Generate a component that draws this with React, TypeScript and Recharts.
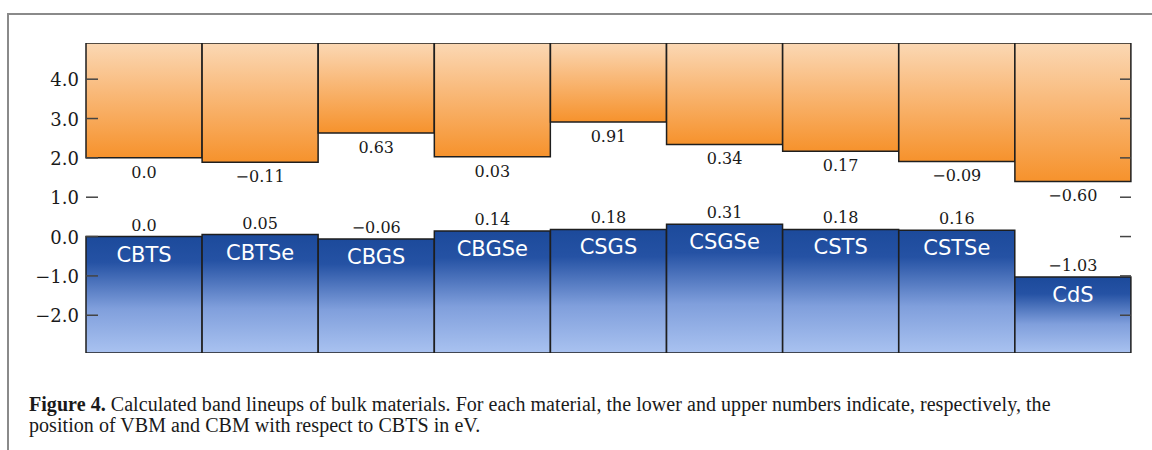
import React from "react";
import { BarChart, Bar, XAxis, YAxis, LabelList } from "recharts";

// Band lineup data (eV, relative to CBTS)
const materials = ["CBTS", "CBTSe", "CBGS", "CBGSe", "CSGS", "CSGSe", "CSTS", "CSTSe", "CdS"];
const vbmValues = [0.0, 0.05, -0.06, 0.14, 0.18, 0.31, 0.18, 0.16, -1.03];
const cbmValues = [0.0, -0.11, 0.63, 0.03, 0.91, 0.34, 0.17, -0.09, -0.6];
const cbtsGap = 2.0;
const yTicks = [-2, -1, 0, 1, 2, 3, 4];
const yDomain: [number, number] = [-2.96, 4.92];

const fmt = (v: number) => (v === 0 ? "0.0" : v.toFixed(2)).replace("-", "\u2212");

const data = materials.map((name, i) => ({
  name,
  valence: [yDomain[0], vbmValues[i]],
  conduction: [cbtsGap + cbmValues[i], yDomain[1]],
  vbmText: fmt(vbmValues[i]),
  cbmText: fmt(cbmValues[i]),
}));

const SERIF = "'DejaVu Serif', serif";
const SANS = "'DejaVu Sans', sans-serif";

const CHART_W = 1152;
const MARGIN = { top: 43, right: 21, left: 26, bottom: 19 };
const Y_AXIS_W = 60;
const PLOT_RIGHT = CHART_W - MARGIN.right;

const LeftTick = (props: any) => {
  const { x, y, payload } = props;
  const v = payload.value as number;
  return (
    <g>
      <text x={x} y={y} dy={7} textAnchor="end" fontFamily={SERIF} fontSize={18} fill="#1a1a1a">
        {v.toFixed(1).replace("-", "\u2212")}
      </text>
      <line x1={x + 7} x2={x + 19} y1={y} y2={y} stroke="#444" strokeWidth={1.5} />
      <line x1={PLOT_RIGHT - 11} x2={PLOT_RIGHT} y1={y} y2={y} stroke="#444" strokeWidth={1.5} />
    </g>
  );
};

const box = (p: any) => {
  const top = Math.min(p.y, p.y + p.height);
  const bottom = Math.max(p.y, p.y + p.height);
  return { cx: p.x + p.width / 2, top, bottom };
};

const VbmLabel = (p: any) => {
  const { cx, top } = box(p);
  return (
    <text x={cx} y={top - 6} textAnchor="middle" fontFamily={SERIF} fontSize={16} fill="#1a1a1a">
      {p.value}
    </text>
  );
};

const NameLabel = (p: any) => {
  const { cx, top } = box(p);
  return (
    <text x={cx} y={top + 25} textAnchor="middle" fontFamily={SANS} fontSize={21} fill="#ffffff">
      {p.value}
    </text>
  );
};

const CbmLabel = (p: any) => {
  const { cx, bottom } = box(p);
  return (
    <text x={cx} y={bottom + 20} textAnchor="middle" fontFamily={SERIF} fontSize={16} fill="#1a1a1a">
      {p.value}
    </text>
  );
};

export default function App() {
  return (
    <div style={{ position: "absolute", left: 0, top: 0, width: 1152, height: 450, background: "#fff", overflow: "hidden" }}>
      {/* figure frame */}
      <div
        style={{
          position: "absolute",
          left: 7,
          top: 13,
          right: 0,
          bottom: 0,
          borderTop: "2px solid #8a8a8a",
          borderLeft: "2px solid #8a8a8a",
        }}
      />
      <div style={{ position: "absolute", left: 0, top: 0 }}>
        <BarChart
          width={CHART_W}
          height={372}
          data={data}
          margin={MARGIN}
          barCategoryGap={0}
          barGap={0}
        >
          <defs>
            <linearGradient id="cbGrad" x1="0" y1="0" x2="0" y2="1">
              <stop offset="0%" stopColor="#fbd8b4" />
              <stop offset="40%" stopColor="#f9bb7d" />
              <stop offset="100%" stopColor="#f6922c" />
            </linearGradient>
            <linearGradient id="vbGrad" x1="0" y1="0" x2="0" y2="1">
              <stop offset="0%" stopColor="#1c4a9b" />
              <stop offset="22%" stopColor="#2552a4" />
              <stop offset="62%" stopColor="#809fdc" />
              <stop offset="100%" stopColor="#a9c2f0" />
            </linearGradient>
          </defs>
          <XAxis xAxisId="vb" dataKey="name" hide />
          <XAxis xAxisId="cb" dataKey="name" hide />
          <YAxis
            yAxisId="left"
            width={Y_AXIS_W}
            domain={yDomain}
            ticks={yTicks}
            type="number"
            allowDataOverflow
            axisLine={false}
            tickLine={false}
            tickSize={0}
            tickMargin={7}
            tick={<LeftTick />}
          />
          <Bar
            xAxisId="vb"
            yAxisId="left"
            dataKey="valence"
            fill="url(#vbGrad)"
            stroke="#1e1e1e"
            strokeWidth={1.5}
            isAnimationActive={false}
          >
            <LabelList dataKey="vbmText" content={<VbmLabel />} />
            <LabelList dataKey="name" content={<NameLabel />} />
          </Bar>
          <Bar
            xAxisId="cb"
            yAxisId="left"
            dataKey="conduction"
            fill="url(#cbGrad)"
            stroke="#1e1e1e"
            strokeWidth={1.5}
            isAnimationActive={false}
          >
            <LabelList dataKey="cbmText" content={<CbmLabel />} />
          </Bar>
        </BarChart>
      </div>
      <div
        style={{
          position: "absolute",
          left: 29,
          top: 394,
          fontFamily: "'Liberation Serif', serif",
          fontSize: 20,
          letterSpacing: "0.05px",
          lineHeight: "21px",
          color: "#1a1a1a",
          whiteSpace: "nowrap",
        }}
      >
        <b>Figure 4.</b> Calculated band lineups of bulk materials. For each material, the lower and upper numbers indicate, respectively, the
        <br />
        position of VBM and CBM with respect to CBTS in eV.
      </div>
    </div>
  );
}
